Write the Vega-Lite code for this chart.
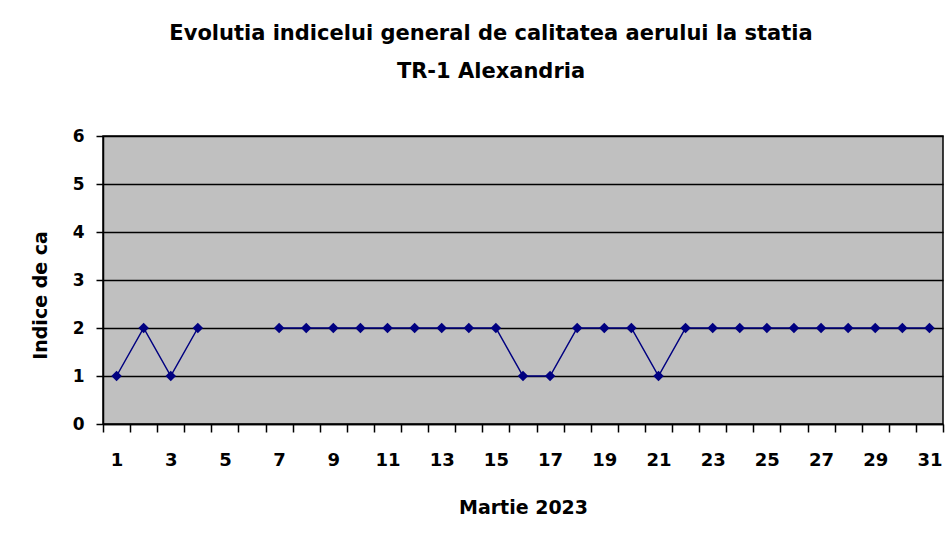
{
  "$schema": "https://vega.github.io/schema/vega-lite/v6.json",
  "width": 840,
  "height": 288,
  "autosize": {"type": "none"},
  "padding": {"left": 103, "top": 136, "right": 4, "bottom": 113},
  "background": "white",
  "title": {
    "text": ["Evolutia indicelui general de calitatea aerului la statia", "TR-1 Alexandria"],
    "font": "DejaVu Sans",
    "fontSize": 21,
    "fontWeight": "bold",
    "color": "black",
    "lineHeight": 38,
    "anchor": "middle",
    "frame": "group",
    "dx": -32,
    "offset": 45
  },
  "config": {
    "view": {"fill": "#C0C0C0", "stroke": "black", "strokeWidth": 1.5},
    "axis": {
      "labelFont": "DejaVu Sans",
      "labelFontWeight": "bold",
      "labelFontSize": 17,
      "labelColor": "black",
      "titleFont": "DejaVu Sans",
      "titleFontWeight": "bold",
      "titleFontSize": 19,
      "titleColor": "black",
      "domainColor": "black",
      "domainWidth": 1.5,
      "tickColor": "black",
      "tickWidth": 1.5,
      "tickSize": 7
    }
  },
  "data": {
    "values": [
      {"day": 1, "index": 1}, {"day": 2, "index": 2}, {"day": 3, "index": 1}, {"day": 4, "index": 2},
      {"day": 5, "index": null}, {"day": 6, "index": null},
      {"day": 7, "index": 2}, {"day": 8, "index": 2}, {"day": 9, "index": 2}, {"day": 10, "index": 2},
      {"day": 11, "index": 2}, {"day": 12, "index": 2}, {"day": 13, "index": 2}, {"day": 14, "index": 2},
      {"day": 15, "index": 2}, {"day": 16, "index": 1}, {"day": 17, "index": 1}, {"day": 18, "index": 2},
      {"day": 19, "index": 2}, {"day": 20, "index": 2}, {"day": 21, "index": 1}, {"day": 22, "index": 2},
      {"day": 23, "index": 2}, {"day": 24, "index": 2}, {"day": 25, "index": 2}, {"day": 26, "index": 2},
      {"day": 27, "index": 2}, {"day": 28, "index": 2}, {"day": 29, "index": 2}, {"day": 30, "index": 2},
      {"day": 31, "index": 2}
    ]
  },
  "encoding": {
    "x": {
      "field": "day",
      "type": "quantitative",
      "scale": {"domain": [0.5, 31.5], "nice": false, "zero": false},
      "axis": {
        "title": "Martie 2023",
        "titlePadding": 29,
        "grid": false,
        "values": [0.5, 1, 1.5, 2, 2.5, 3, 3.5, 4, 4.5, 5, 5.5, 6, 6.5, 7, 7.5, 8, 8.5, 9, 9.5, 10, 10.5, 11, 11.5, 12, 12.5, 13, 13.5, 14, 14.5, 15, 15.5, 16, 16.5, 17, 17.5, 18, 18.5, 19, 19.5, 20, 20.5, 21, 21.5, 22, 22.5, 23, 23.5, 24, 24.5, 25, 25.5, 26, 26.5, 27, 27.5, 28, 28.5, 29, 29.5, 30, 30.5, 31, 31.5],
        "labelExpr": "datum.value % 2 == 1 ? format(datum.value, 'd') : ''",
        "labelOverlap": false,
        "labelFlush": false,
        "labelFontSize": 18,
        "labelPadding": 19,
        "tickSize": 8,
        "tickOpacity": {"condition": {"test": "datum.value % 1 == 0", "value": 0}, "value": 1}
      }
    },
    "y": {
      "field": "index",
      "type": "quantitative",
      "scale": {"domain": [0, 6], "nice": false},
      "axis": {
        "title": "Indice de ca",
        "values": [0, 1, 2, 3, 4, 5, 6],
        "grid": true,
        "gridColor": "black",
        "gridWidth": 1.5,
        "gridOpacity": 1,
        "labelPadding": 12,
        "titlePadding": 22,
        "titleY": 159
      }
    }
  },
  "layer": [
    {
      "mark": {"type": "line", "color": "#000080", "strokeWidth": 1.5, "invalid": "break-paths-show-domains"}
    },
    {
      "mark": {"type": "point", "shape": "diamond", "filled": true, "size": 110, "color": "#000080", "opacity": 1}
    }
  ]
}
